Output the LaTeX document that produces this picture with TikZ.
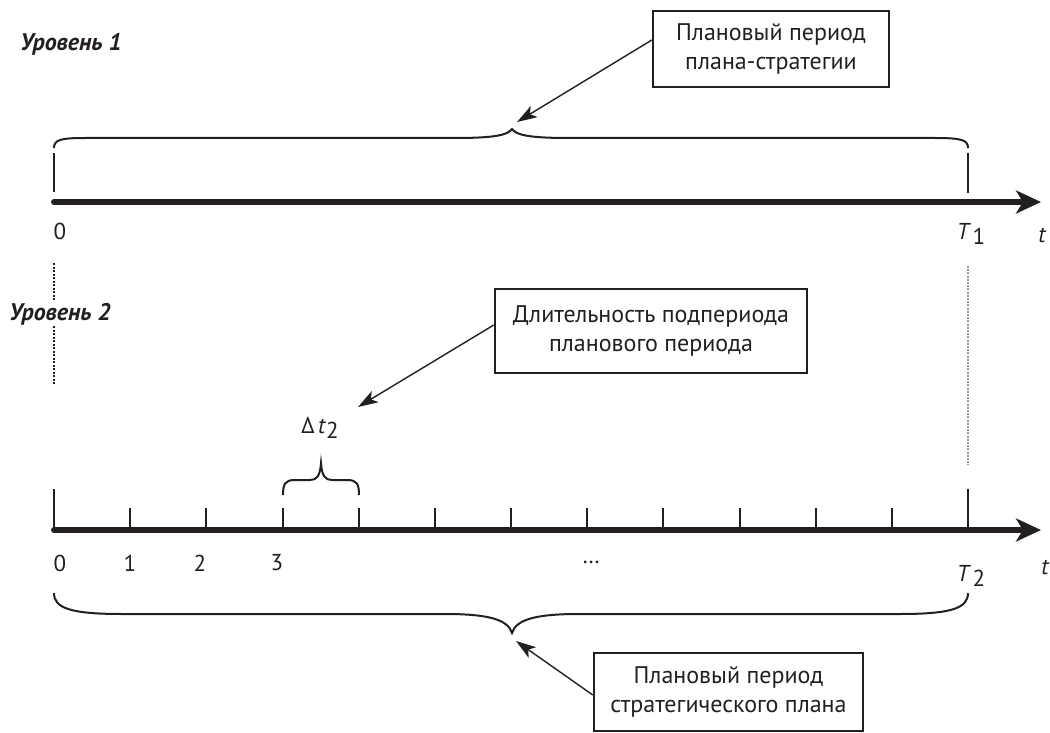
\documentclass[tikz,border=0pt]{standalone}
\usepackage{fontspec}
\setmainfont{PT Sans}
\usetikzlibrary{arrows.meta,calc}
\definecolor{ink}{HTML}{231F20}
\tikzset{
  axisline/.style={line width=6pt, line cap=round, draw=ink, -{Stealth[length=25pt,width=23pt,inset=7pt]}},
  tickline/.style={line width=2pt, draw=ink},
  bracepath/.style={line width=2pt, draw=ink},
  callout/.style={line width=1.4pt, draw=ink, -{Stealth[length=20pt,width=13pt,inset=5pt]}},
  infobox/.style={draw=ink, line width=2.4pt, align=center, inner sep=0pt, font=\fontsize{24}{29}\selectfont, text=ink},
  numlabel/.style={font=\fontsize{23}{26}\selectfont, text=ink, inner sep=0pt},
  levellabel/.style={font=\fontsize{24}{26}\selectfont\bfseries\itshape, text=ink, inner sep=1pt, fill=white},
  guideA/.style={line width=1.5pt, draw=ink, dash pattern=on 2pt off 1.5pt},
  guideB/.style={line width=1.2pt, draw=gray!80, dash pattern=on 2pt off 1.2pt}
}
\begin{document}
\begin{tikzpicture}[x=1pt,y=-1pt]
\useasboundingbox (0,0) rectangle (1050,733);

% ---- Level 1 ----
\node[levellabel] (lvl1) at (71,44) {Уровень 1};
\node[infobox, minimum width=236pt, minimum height=76pt] (box1) at (771,49) {Плановый период\\плана-стратегии};

\coordinate (c1) at (512,129);
\draw[bracepath] (54,148) .. controls (54,140) and (60,138) .. (85,138) -- (455,138)
  .. controls (495,138) and (508,135) .. (c1)
  .. controls (516,135) and (529,138) .. (569,138) -- (935,138)
  .. controls (962,138) and (968,140) .. (968,148);
\draw[callout] (box1.west |- 0,40) -- ($(c1)+(5,-7)$);

\coordinate (a1s) at (54,202);
\coordinate (a1e) at (1041,202);
\draw[tickline] (54,153) -- (54,192);
\draw[tickline] (968,153) -- (968,193);
\draw[axisline] (a1s) -- (a1e);
\node[numlabel] (z1) at (60,231) {0};
\node[numlabel] (T1) at (971,234) {\itshape T\,\raisebox{-5pt}{\upshape 1}};
\node[numlabel] (t1) at (1042,235) {\itshape t};

% ---- guides ----
\draw[guideA] (54,263) -- (54,385);
\draw[guideB] (968,266) -- (968,465);

% ---- Level 2 ----
\node[levellabel] (lvl2) at (60,314) {Уровень 2};
\node[infobox, minimum width=312pt, minimum height=84pt] (box2) at (651,331) {Длительность подпериода\\планового периода};
\coordinate (dtip) at (358,407);
\draw[callout] (box2.west |- 0,325) -- (dtip);
\node[numlabel] (dt) at (320,428) {Δ\,\textit{t}\raisebox{-5pt}{2}};

\coordinate (c2) at (321,463);
\draw[bracepath] (283,495) .. controls (283,484) and (285,480) .. (295,480) -- (310,480)
  .. controls (317,480) and (320,476) .. (c2)
  .. controls (322,476) and (325,480) .. (332,480) -- (347,480)
  .. controls (357,480) and (359,484) .. (359,495);

\coordinate (a2s) at (54,530);
\coordinate (a2e) at (1041,530);
\draw[tickline] (54,489) -- (54,528);
\draw[tickline] (968,489) -- (968,528);
\foreach \i in {1,...,11}{
  \draw[tickline] ({54+76.17*\i},508) -- ({54+76.17*\i},528);
}
\draw[axisline] (a2s) -- (a2e);
\node[numlabel] (n0) at (60,563) {0};
\node[numlabel] (n1) at (130,563) {1};
\node[numlabel] (n2) at (200,563) {2};
\node[numlabel] (n3) at (277,563) {3};
\node[numlabel] (dots) at (591,562) {…};
\node[numlabel] (T2) at (971,576) {\itshape T\,\raisebox{-5pt}{\upshape 2}};
\node[numlabel] (t2) at (1045,567) {\itshape t};

\coordinate (c3) at (512,633);
\draw[bracepath] (54,593) .. controls (54,608) and (70,614) .. (122,614) -- (445,614)
  .. controls (490,614) and (508,620) .. (c3)
  .. controls (516,620) and (534,614) .. (579,614) -- (900,614)
  .. controls (952,614) and (968,608) .. (968,593);

\node[infobox, minimum width=269pt, minimum height=78pt] (box3) at (728.5,692) {Плановый период\\стратегического плана};
\draw[callout] (box3.west |- 0,695) -- ($(c3)+(4,8)$);
\end{tikzpicture}
\end{document}
